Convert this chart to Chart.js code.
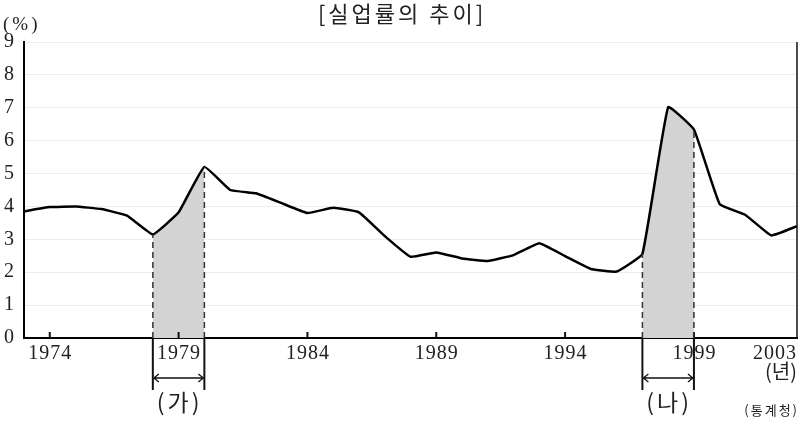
<!DOCTYPE html>
<html>
<head>
<meta charset="utf-8">
<script src="https://cdn.jsdelivr.net/npm/chart.js@4/dist/chart.umd.min.js"></script>
<style>
  html, body { margin: 0; padding: 0; background: #fff; }
</style>
</head>
<body>
<canvas id="chart" width="800" height="424"></canvas>
<script>
// unemployment rate (%) by year
const years = [1973, 1974, 1975, 1976, 1977, 1978, 1979, 1980, 1981, 1982, 1983,
  1984, 1985, 1986, 1987, 1988, 1989, 1990, 1991, 1992, 1993, 1994, 1995, 1996,
  1997, 1998, 1999, 2000, 2001, 2002, 2003];
const rates = [3.85, 3.98, 4.0, 3.92, 3.72, 3.15, 3.82, 5.2, 4.5, 4.4, 4.1,
  3.8, 3.96, 3.82, 3.1, 2.47, 2.6, 2.42, 2.34, 2.52, 2.88, 2.49, 2.1, 2.02,
  2.56, 7.02, 6.34, 4.07, 3.74, 3.12, 3.4];

const xTickLabels = [1974, 1979, 1984, 1989, 1994, 1999, 2003];
const yTickValues = [0, 1, 2, 3, 4, 5, 6, 7, 8, 9];

// shaded periods
const periodStarts = [1978, 1997];
const periodEnds = [1980, 1999];
const periodLabels = ["(가)", "(나)"];

const serif = "'Liberation Serif', 'DejaVu Serif', serif";
const korean = "'Noto Sans CJK KR', sans-serif";
const lineTension = 0.1;

function valueAt(year) {
  return rates[years.indexOf(year)];
}

// one fill dataset for each period
const shadeSets = periodStarts.map((start, i) => ({
  data: years
    .filter((yr) => yr >= start && yr <= periodEnds[i])
    .map((yr) => ({ x: yr, y: valueAt(yr) })),
  borderWidth: 0,
  pointRadius: 0,
  backgroundColor: "#d3d3d3",
  fill: "origin",
  tension: lineTension,
  order: 2,
}));

const extras = {
  id: "extras",
  afterDatasetsDraw(chart) {
    const { ctx, chartArea: a, scales } = chart;
    const x = scales.x;
    const y = scales.y;
    ctx.save();

    // right frame line
    ctx.strokeStyle = "#111";
    ctx.lineWidth = 1.5;
    ctx.beginPath();
    ctx.moveTo(a.right, a.top);
    ctx.lineTo(a.right, a.bottom);
    ctx.stroke();

    // inner tick marks on the year axis
    ctx.lineWidth = 2;
    xTickLabels.slice(0, -1).forEach((yr) => {
      const px = x.getPixelForValue(yr);
      ctx.beginPath();
      ctx.moveTo(px, a.bottom);
      ctx.lineTo(px, a.bottom - 6);
      ctx.stroke();
    });

    // year labels
    ctx.fillStyle = "#222";
    ctx.font = "20px " + serif;
    ctx.letterSpacing = "1px";
    ctx.textBaseline = "middle";
    xTickLabels.forEach((yr, i) => {
      const last = i === xTickLabels.length - 1;
      ctx.textAlign = last ? "right" : "center";
      const px = last ? a.right : x.getPixelForValue(yr) + 0.5;
      ctx.fillText(String(yr), px, a.bottom + 16);
    });

    // unit labels
    ctx.font = "20px " + korean;
    ctx.letterSpacing = "0px";
    ctx.textAlign = "right";
    ctx.fillText("(년)", a.right, a.bottom + 33);
    ctx.font = "13px " + korean;
    ctx.letterSpacing = "2px";
    ctx.fillText("(통계청)", a.right + 2, a.bottom + 72);
    ctx.textAlign = "left";
    ctx.font = "19px " + serif;
    ctx.letterSpacing = "3px";
    ctx.fillText("(%)", 3, 25);

    // title
    ctx.font = "22px " + korean;
    ctx.textAlign = "center";
    ctx.letterSpacing = "3px";
    ctx.fillText("[실업률의 추이]", 402, 14);
    ctx.letterSpacing = "0px";

    // period markers
    periodStarts.forEach((start, i) => {
      const end = periodEnds[i];
      const x1 = x.getPixelForValue(start);
      const x2 = x.getPixelForValue(end);

      ctx.strokeStyle = "#333";
      ctx.lineWidth = 1.5;
      ctx.setLineDash([6, 4]);
      [start, end].forEach((yr) => {
        const px = x.getPixelForValue(yr);
        ctx.beginPath();
        ctx.moveTo(px, a.bottom);
        ctx.lineTo(px, y.getPixelForValue(valueAt(yr)));
        ctx.stroke();
      });
      ctx.setLineDash([]);

      ctx.strokeStyle = "#111";
      ctx.lineWidth = 2;
      [x1, x2].forEach((px) => {
        ctx.beginPath();
        ctx.moveTo(px, a.bottom);
        ctx.lineTo(px, a.bottom + 52);
        ctx.stroke();
      });

      // double arrow
      const ay = a.bottom + 40;
      ctx.lineWidth = 1.3;
      ctx.beginPath();
      ctx.moveTo(x1 + 1, ay);
      ctx.lineTo(x2 - 1, ay);
      ctx.moveTo(x1 + 6, ay - 4);
      ctx.lineTo(x1 + 1, ay);
      ctx.lineTo(x1 + 6, ay + 4);
      ctx.moveTo(x2 - 6, ay - 4);
      ctx.lineTo(x2 - 1, ay);
      ctx.lineTo(x2 - 6, ay + 4);
      ctx.stroke();

      ctx.fillStyle = "#222";
      ctx.font = "23px " + korean;
      ctx.letterSpacing = "3px";
      ctx.textAlign = "center";
      ctx.fillText(periodLabels[i], (x1 + x2) / 2 + 1, a.bottom + 64);
      ctx.letterSpacing = "0px";
    });

    ctx.restore();
  },
};

new Chart(document.getElementById("chart"), {
  type: "line",
  data: {
    datasets: [
      {
        data: years.map((yr, i) => ({ x: yr, y: rates[i] })),
        borderColor: "#000",
        borderWidth: 2.5,
        pointRadius: 0,
        fill: false,
        tension: lineTension,
        order: 1,
      },
      ...shadeSets,
    ],
  },
  options: {
    responsive: false,
    animation: false,
    layout: { padding: { top: 42, right: 3, bottom: 86, left: 0 } },
    plugins: { legend: { display: false }, tooltip: { enabled: false } },
    scales: {
      x: {
        type: "linear",
        min: 1973,
        max: 2003,
        ticks: { display: false },
        grid: { display: false },
        border: { color: "#000", width: 2 },
        afterFit(s) {
          s.height = 0;
        },
      },
      y: {
        min: 0,
        max: 9,
        afterBuildTicks(s) {
          s.ticks = yTickValues.map((v) => ({ value: v }));
        },
        ticks: {
          padding: 10,
          color: "#222",
          font: { family: serif, size: 20 },
        },
        grid: { color: "#ededed", drawTicks: false },
        border: { color: "#000", width: 2 },
        afterFit(s) {
          s.width = 24;
        },
      },
    },
  },
  plugins: [extras],
});
</script>
</body>
</html>
